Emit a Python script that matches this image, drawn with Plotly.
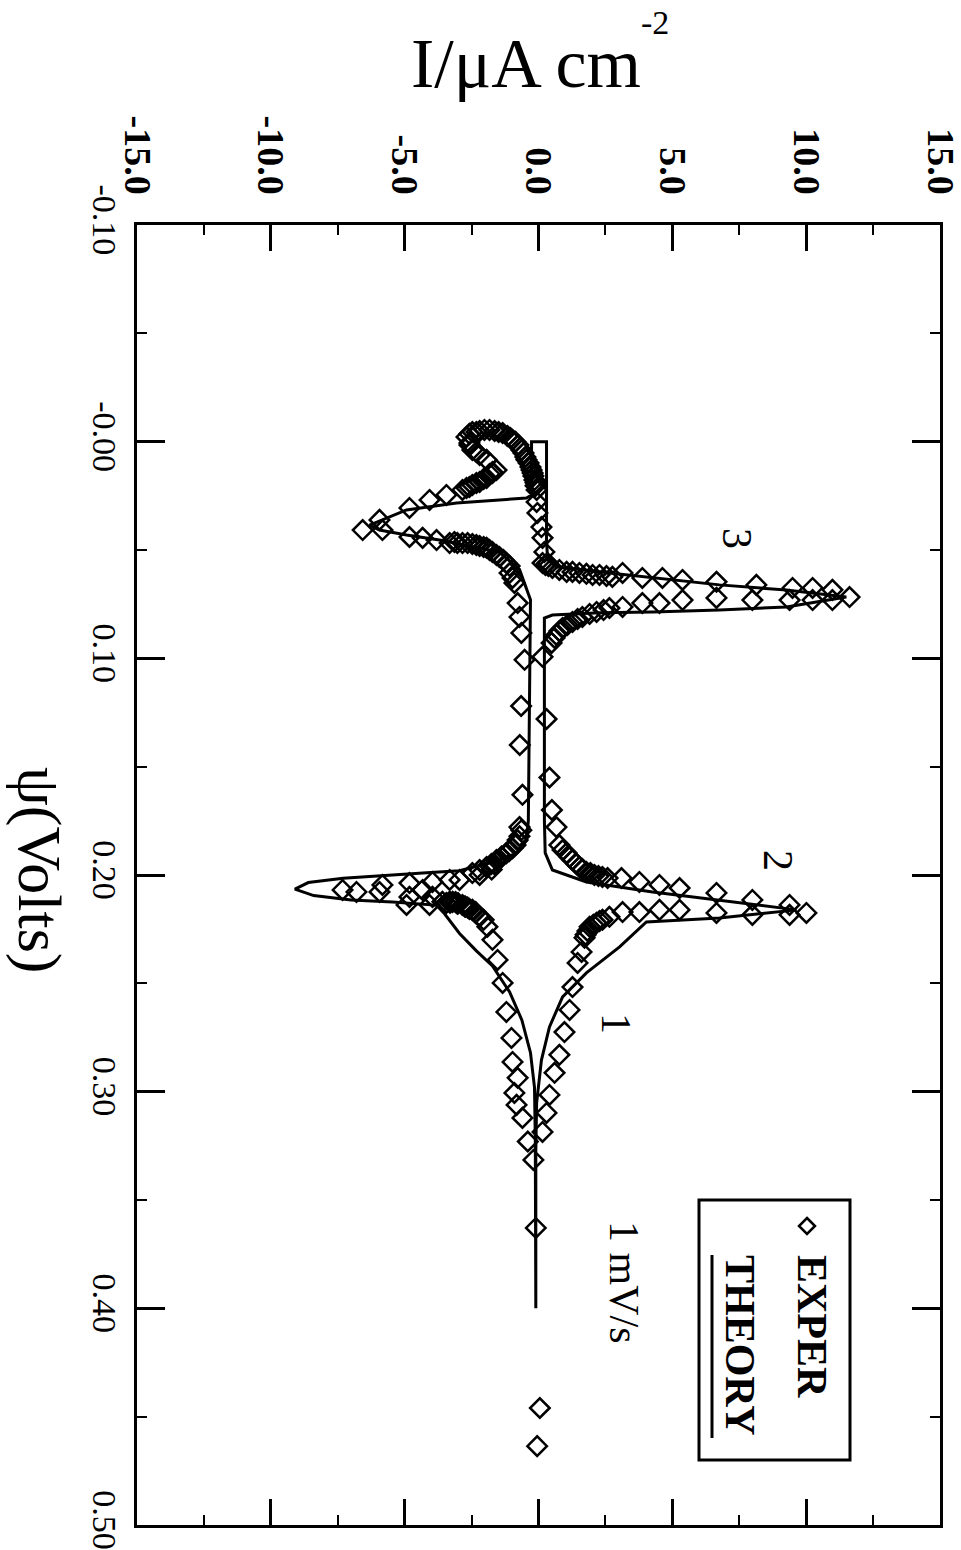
import plotly.graph_objects as go

# ---------------- data ----------------
# Theory curve (psi in volts, I in uA/cm^2), in sweep order
theory_psi = [0.400, 0.330, 0.3215, 0.298, 0.282, 0.267, 0.254, 0.242, 0.235, 0.227, 0.219, 0.214,
              0.2125, 0.2115, 0.2095, 0.2065, 0.2035, 0.2015, 0.199, 0.198, 0.194, 0.190, 0.184, 0.175,
              0.073, 0.059, 0.051, 0.0486, 0.0454, 0.0431, 0.0408, 0.0385, 0.0315, 0.0283, 0.026, 0.0246,
              0.000, 0.000, 0.0454, 0.0546, 0.0578, 0.0606, 0.0661, 0.0685, 0.0717, 0.0763, 0.0777, 0.0786,
              0.079, 0.080, 0.0814, 0.1746, 0.1898, 0.1977, 0.2032, 0.2078, 0.2115, 0.2161, 0.2198, 0.2217,
              0.2332, 0.2452, 0.2563, 0.2701, 0.2854, 0.3052, 0.327, 0.400]
theory_I = [-0.10, -0.10, -0.12, -0.15, -0.30, -0.62, -1.08, -1.72, -2.32, -2.95, -3.44, -3.75,
            -5.45, -7.00, -8.40, -9.10, -8.60, -7.30, -4.18, -2.95, -1.72, -0.82, -0.45, -0.38,
            -0.30, -0.71, -1.46, -2.47, -3.70, -4.93, -5.94, -6.31, -4.93, -3.06, -0.45, -0.26,
            -0.26, 0.30, 0.30, 0.34, 0.67, 2.65, 6.76, 9.26, 11.5, 9.26, 6.76, 4.26,
            2.28, 0.52, 0.22, 0.22, 0.25, 0.52, 1.79, 4.26, 6.76, 9.64, 6.76, 4.03,
            3.03, 1.79, 0.90, 0.41, 0.11, -0.07, -0.10, -0.10]

# Experimental points (psi, I)
exp_psi = [
    # cathodic branch 1
    0.3315, 0.323, 0.3121, 0.3061, 0.3006, 0.2936, 0.2863, 0.2752, 0.2632, 0.2498, 0.2392, 0.2299,
    0.2239, 0.2193, 0.2175, 0.2161, 0.2150, 0.2145, 0.2138, 0.2130, 0.2125, 0.2124, 0.2128, 0.2129,
    0.2157, 0.2147, 0.2133, 0.2124, 0.2124, 0.2171, 0.2207,
    # cathodic peak 2
    0.2069, 0.2078, 0.2078, 0.2046, 0.2037, 0.2101, 0.2069, 0.2032, 0.2101, 0.2023, 0.2023, 0.2138, 0.2138,
    # return towards smaller current
    0.2000, 0.1991, 0.1975, 0.1963, 0.1950, 0.1931, 0.1915, 0.1899, 0.1890, 0.1876, 0.1839, 0.1779,
    0.1977, 0.1949, 0.1917, 0.1885, 0.1862, 0.1821, 0.1793,
    0.163, 0.140, 0.122,
    # approach to cathodic peak 3
    0.1007, 0.0883, 0.0809, 0.0745, 0.0652, 0.0629, 0.0606, 0.056, 0.0532, 0.0509, 0.049, 0.0482, 0.0472,
    0.0574, 0.0546, 0.0523, 0.050, 0.0486, 0.0477, 0.0468, 0.0468, 0.0463,
    0.0468, 0.0468, 0.0454, 0.0444, 0.044, 0.0408, 0.0408,
    0.0361, 0.0306, 0.0269, 0.0246, 0.0223, 0.020, 0.0186, 0.0168, 0.0145, 0.0131,
    0.0140, 0.0149, 0.0172, 0.0191, 0.0209, 0.0214,
    0.0084, 0.0048, 0.0006, -0.0022, 0.0015, 0.0038, 0.0061,
    # turnaround and anodic sweep
    -0.0036, -0.0045, -0.0049, -0.0054, -0.0049, -0.0045, -0.0026, -0.0017, 0.0001, 0.0015, 0.0052,
    0.0071, 0.0098, 0.0117, 0.0145, 0.0158, 0.0190, 0.0204,
    -0.0045, -0.0054, -0.004, -0.0008, 0.0038, 0.0084, 0.0131, 0.0177, 0.0223, 0.0278, 0.0329, 0.0394,
    0.0444, 0.0509, 0.056,
    # anodic peak 3
    0.056, 0.0583, 0.0601, 0.0606, 0.0615, 0.062, 0.0606, 0.0629, 0.0629, 0.0638, 0.0647, 0.0661,
    0.0675, 0.0675, 0.0684, 0.0717,
    0.0569, 0.0574, 0.0592, 0.0601, 0.0610, 0.0615, 0.0624,
    0.0731, 0.0731, 0.0731, 0.0731, 0.0721, 0.0731, 0.0745, 0.0745, 0.0763, 0.0768, 0.0786, 0.0809,
    0.0832, 0.0860, 0.0892, 0.0929, 0.0993,
    0.0777, 0.0795, 0.0818, 0.0846, 0.0874, 0.0906,
    0.128, 0.155, 0.170,
    # anodic peak 2
    0.1779, 0.1862, 0.1899, 0.1931, 0.1963, 0.1986, 0.2000, 0.2009, 0.2014, 0.2014, 0.2032, 0.2046,
    0.2060, 0.2083, 0.2115, 0.2138, 0.2175,
    0.1885, 0.1917, 0.1949, 0.1972, 0.1991, 0.2005,
    0.2184, 0.2184, 0.2175, 0.2161, 0.2161, 0.2171, 0.2171, 0.2193, 0.2207, 0.2221, 0.2239, 0.229,
    0.2212, 0.2230, 0.2258, 0.2276,
    0.2355, 0.2406, 0.2517, 0.2623, 0.2725, 0.283, 0.2913, 0.3015, 0.3098, 0.3186,
    # tail
    0.3629, 0.446, 0.4636,
]
exp_I = [
    -0.19, -0.40, -0.60, -0.82, -0.90, -0.78, -0.97, -1.01, -1.20, -1.34, -1.53, -1.72,
    -1.91, -2.20, -2.35, -2.47, -2.65, -2.75, -2.84, -3.00, -3.10, -3.21, -3.30, -3.44,
    -2.58, -2.73, -3.03, -3.32, -3.59, -2.35, -2.05,
    -7.32, -6.80, -5.94, -5.83, -4.82, -4.82, -4.33, -3.96, -3.96, -3.32, -2.95, -4.93, -4.07,
    -2.20, -2.47, -1.75, -1.94, -1.65, -1.57, -1.38, -1.20, -1.10, -0.97, -0.78, -0.71,
    -2.20, -1.76, -1.38, -1.08, -0.86, -0.71, -0.64,
    -0.60, -0.70, -0.65,
    -0.52, -0.64, -0.71, -0.78, -0.90, -0.97, -1.08, -1.20, -1.46, -1.72, -1.94, -2.20, -2.47,
    -1.08, -1.31, -1.57, -1.83, -2.05, -2.32, -2.65, -3.03, -3.14,
    -2.84, -3.32, -3.81, -4.33, -4.82, -5.83, -6.57,
    -5.94, -4.82, -4.07, -3.44, -2.84, -2.47, -2.20, -1.94, -1.72, -1.57,
    -1.72, -1.83, -2.05, -2.32, -2.58, -2.69,
    -1.94, -2.32, -2.58, -2.69, -2.58, -2.47, -2.20,
    -2.58, -2.47, -2.20, -2.02, -1.64, -1.49, -1.16, -1.05, -0.86, -0.75, -0.56,
    -0.49, -0.37, -0.30, -0.22, -0.19, -0.11, -0.11,
    -2.32, -1.83, -1.34, -0.97, -0.64, -0.45, -0.26, -0.15, -0.07, -0.07, -0.04, 0.11,
    0.15, 0.22, 0.34,
    0.15, 0.52, 1.05, 1.53, 2.02, 2.54, 3.14, 3.88, 4.63, 5.38, 6.65, 8.14,
    9.49, 10.24, 10.98, 11.62,
    0.26, 0.37, 0.78, 1.27, 1.79, 2.28, 2.76,
    10.98, 10.24, 9.38, 7.99, 6.65, 5.38, 4.52, 3.88, 3.14, 2.65, 2.17, 1.64,
    1.27, 0.90, 0.67, 0.49, 0.15,
    2.43, 1.91, 1.46, 1.08, 0.78, 0.60,
    0.30, 0.41, 0.50,
    0.67, 0.78, 1.05, 1.27, 1.53, 1.79, 2.09, 2.39, 2.58, 3.10, 3.77, 4.52,
    5.27, 6.65, 7.99, 9.38, 10.01,
    0.90, 1.16, 1.42, 1.64, 1.94, 2.24,
    9.38, 7.99, 6.65, 5.27, 4.52, 3.77, 3.14, 2.65, 2.39, 2.17, 1.91, 1.72,
    2.28, 2.05, 1.83, 1.76,
    1.61, 1.46, 1.27, 1.16, 0.97, 0.78, 0.60, 0.41, 0.30, 0.15,
    -0.10, 0.05, -0.05,
]

I_tickvals = [-15, -10, -5, 0, 5, 10, 15]
I_ticktext = ["-15.0", "-10.0", "-5.0", "0.0", "5.0", "10.0", "15.0"]
psi_tickvals = [-0.10, 0.0, 0.10, 0.20, 0.30, 0.40, 0.50]
psi_ticktext = ["-0.10", "-0.00", "0.10", "0.20", "0.30", "0.40", "0.50"]

SERIF = "Liberation Serif"

fig = go.Figure()
fig.add_trace(go.Scatter(x=theory_I, y=theory_psi, mode="lines",
                         line=dict(color="black", width=3), showlegend=False, hoverinfo="skip"))
fig.add_trace(go.Scatter(x=exp_I, y=exp_psi, mode="markers",
                         marker=dict(symbol="diamond-open", size=15, color="black",
                                     line=dict(width=2.5, color="black")),
                         showlegend=False))

fig.update_xaxes(range=[-15, 15], side="top", tickvals=I_tickvals,
                 ticktext=["<b>%s</b>" % t for t in I_ticktext], tickangle=90,
                 ticks="inside", ticklen=26, tickwidth=2.5, tickcolor="black",
                 mirror="allticks", showline=True, linewidth=3, linecolor="black",
                 showgrid=False, zeroline=False, ticklabelstandoff=14,
                 ticklabeloverflow="allow", automargin=False,
                 minor=dict(tickvals=[-12.5, -7.5, -2.5, 2.5, 7.5, 12.5], ticks="inside",
                            ticklen=10, tickwidth=2, tickcolor="black"),
                 tickfont=dict(family=SERIF, size=38, color="black"))
fig.update_yaxes(range=[0.5, -0.1], tickvals=psi_tickvals, ticktext=psi_ticktext, tickangle=90,
                 ticks="inside", ticklen=28, tickwidth=2.5, tickcolor="black",
                 mirror="allticks", showline=True, linewidth=3, linecolor="black",
                 showgrid=False, zeroline=False, ticklabeloverflow="allow", automargin=False,
                 minor=dict(tickvals=[-0.05, 0.05, 0.15, 0.25, 0.35, 0.45], ticks="inside",
                            ticklen=10, tickwidth=2, tickcolor="black"),
                 tickfont=dict(family=SERIF, size=34, color="black"))

L, R, T, B = 137, 21, 225, 25
W, H = 961, 1550
PW, PH = W - L - R, H - T - B

def px(xp):
    return (xp - L) / PW

def py(yp):
    return (H - B - yp) / PH

def ann(text, xp, yp, size, angle=0, bold=False):
    return dict(text=("<b>%s</b>" % text) if bold else text, x=px(xp), y=py(yp),
                xref="paper", yref="paper", showarrow=False, textangle=angle,
                xanchor="center", yanchor="middle",
                font=dict(family=SERIF, size=size, color="black"))

annotations = [
    ann("I/μA cm", 526, 64, 70),
    ann("-2", 655, 22, 34),
    ann("ψ(Volts)", 40, 870, 62, 90),
    ann("3", 737, 538, 42, 90),
    ann("2", 778, 860, 42, 90),
    ann("1", 616, 1023, 42, 90),
    ann("1 mV/s", 624, 1282, 42, 90),
    ann("EXPER", 812, 1326, 42, 90, bold=True),
    ann("THEORY", 740, 1345, 42, 90, bold=True),
]

shapes = [
    dict(type="rect", xref="paper", yref="paper", x0=px(699), x1=px(850), y0=py(1460), y1=py(1200),
         line=dict(color="black", width=3)),
    dict(type="line", xref="paper", yref="paper", x0=px(712), x1=px(712), y0=py(1438), y1=py(1255),
         line=dict(color="black", width=3)),
    dict(type="path", xref="paper", yref="paper", xsizemode="pixel", ysizemode="pixel",
         xanchor=px(807), yanchor=py(1226), path="M 0 8 L 8 0 L 0 -8 L -8 0 Z",
         line=dict(color="black", width=2.5)),
]

fig.update_layout(width=W, height=H, autosize=False,
                  margin=dict(l=L, r=R, t=T, b=B, pad=0),
                  paper_bgcolor="white", plot_bgcolor="white",
                  annotations=annotations, shapes=shapes, showlegend=False)

fig.write_html("out.html", config={"displayModeBar": False},
               post_script="document.body.style.margin='0px';document.body.style.overflow='hidden';")
